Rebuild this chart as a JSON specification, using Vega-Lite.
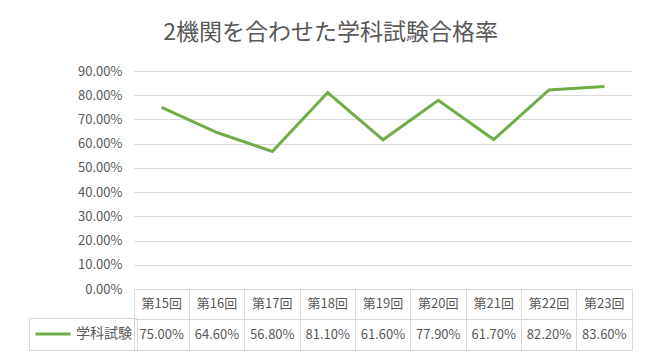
{
  "$schema": "https://vega.github.io/schema/vega-lite/v6.json",
  "background": "white",
  "padding": {"left": 28, "top": 22, "right": 19, "bottom": 9},
  "title": {"text": "2機関を合わせた学科試験合格率", "fontSize": 23, "font": "Noto Sans CJK JP", "fontWeight": "normal", "color": "#595959", "anchor": "middle", "frame": "bounds", "offset": 20},
  "config": {"view": {"stroke": null}, "font": "Noto Sans CJK JP", "text": {"font": "Noto Sans CJK JP"}},
  "data": {"values": [
    {"round": "第15回", "rate": 0.75},
    {"round": "第16回", "rate": 0.646},
    {"round": "第17回", "rate": 0.568},
    {"round": "第18回", "rate": 0.811},
    {"round": "第19回", "rate": 0.616},
    {"round": "第20回", "rate": 0.779},
    {"round": "第21回", "rate": 0.617},
    {"round": "第22回", "rate": 0.822},
    {"round": "第23回", "rate": 0.836}
  ]},
  "bounds": "flush",
  "spacing": 0,
  "resolve": {"legend": {"color": "independent"}},
  "vconcat": [
    {
      "width": 498,
      "height": 218,
      "mark": {"type": "line", "strokeWidth": 3},
      "encoding": {
        "x": {"field": "round", "type": "ordinal", "sort": null, "scale": {"type": "point", "padding": 0.5}, "axis": null},
        "y": {"field": "rate", "type": "quantitative", "scale": {"domain": [0, 0.9], "nice": false},
          "axis": {"values": [0, 0.1, 0.2, 0.3, 0.4, 0.5, 0.6, 0.7, 0.8, 0.9], "format": ".2%", "title": null, "domain": false, "ticks": false, "labelFontSize": 13, "labelColor": "#595959", "labelPadding": 12, "gridColor": "#d9d9d9", "labelFont": "Noto Sans CJK JP"}},
        "color": {"datum": "学科試験", "type": "nominal", "scale": {"range": ["#70ad47"]},
          "legend": {"orient": "none", "legendX": -105, "legendY": 247, "title": null, "symbolType": "stroke", "symbolSize": 1225, "symbolStrokeWidth": 3, "labelFontSize": 14, "labelColor": "#595959", "labelFont": "Noto Sans CJK JP", "strokeColor": "#d9d9d9", "padding": 5, "labelOffset": 4, "clipHeight": 22}}
      }
    },
    {
      "width": 498,
      "height": 61,
      "view": {"stroke": "#d9d9d9"},
      "encoding": {
        "x": {"field": "round", "type": "ordinal", "sort": null, "scale": {"type": "band", "paddingInner": 0, "paddingOuter": 0},
          "axis": {"orient": "top", "grid": true, "bandPosition": 0, "labels": false, "ticks": false, "domain": false, "title": null, "gridColor": "#d9d9d9"}}
      },
      "layer": [
        {
          "mark": {"type": "text", "fontSize": 13, "color": "#595959"},
          "encoding": {
            "y": {"datum": "cat", "type": "nominal", "scale": {"domain": ["cat", "val"], "type": "band", "paddingInner": 0, "paddingOuter": 0},
              "axis": {"grid": true, "bandPosition": 0, "labels": false, "ticks": false, "domain": false, "title": null, "gridColor": "#d9d9d9"}},
            "text": {"field": "round"}
          }
        },
        {
          "mark": {"type": "text", "fontSize": 13, "color": "#595959"},
          "encoding": {
            "y": {"datum": "val", "type": "nominal"},
            "text": {"field": "rate", "format": ".2%"}
          }
        }
      ]
    }
  ]
}
